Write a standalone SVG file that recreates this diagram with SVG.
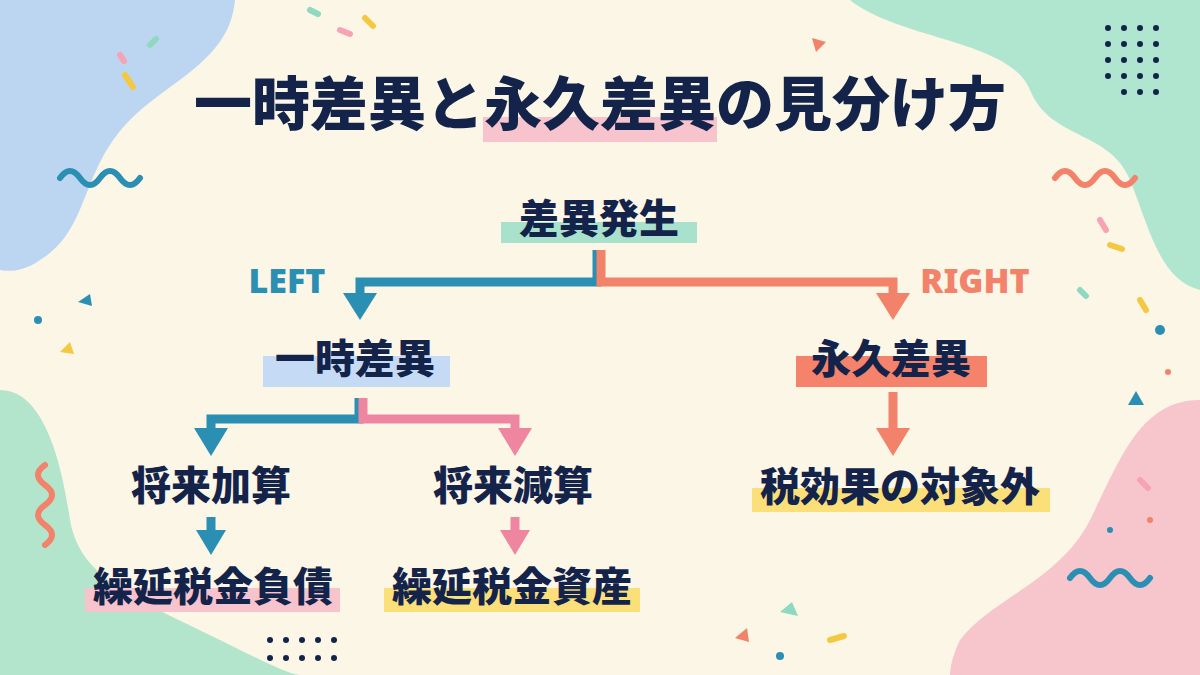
<svg xmlns="http://www.w3.org/2000/svg" width="1200" height="675" viewBox="0 0 1200 675">
<defs>
<style>
.t{font-family:"Noto Sans CJK JP","Noto Sans",sans-serif;font-weight:900;fill:#13234a;text-anchor:middle}
.lab{font-family:"Noto Sans","Liberation Sans",sans-serif;font-weight:900;font-size:34px}
.c{fill:none;stroke-width:9}
.sq{fill:none;stroke-width:6;stroke-linecap:round}
</style>
</defs>
<rect width="1200" height="675" fill="#fbf6e6"/>
<!-- blobs -->
<path d="M0,0 H235 C230,60 170,80 130,120 C80,170 90,230 40,260 C20,275 0,270 0,270Z" fill="#bcd6f2"/>
<path d="M850,0 H1200 V290 C1160,280 1150,230 1130,180 C1110,130 1050,140 1030,90 C1010,40 900,40 850,0Z" fill="#b0e6cf"/>
<path d="M0,390 C40,390 60,450 70,520 C80,580 140,600 220,640 C260,660 290,675 300,675 H0Z" fill="#b3e5cc"/>
<path d="M1200,400 C1140,400 1120,460 1090,520 C1060,580 990,600 960,640 C950,660 950,675 950,675 H1200Z" fill="#f7c6cc"/>
<!-- decorations -->
<path class="sq" stroke="#2a8fb3" d="M60,178 q10,-14 20,0 t20,0 t20,0 t20,0"/>
<path class="sq" stroke="#f2826a" d="M1055,178 q10,-14 20,0 t20,0 t20,0 t20,0"/>
<path class="sq" stroke="#2a8fb3" d="M1070,578 q10,-14 20,0 t20,0 t20,0 t20,0"/>
<path class="sq" stroke="#f2826a" d="M45,465 q-14,10 0,20 t0,20 t0,20 t0,20"/>
<g fill="#13234a">
<circle cx="1108" cy="28" r="3"/><circle cx="1124" cy="28" r="3"/><circle cx="1140" cy="28" r="3"/><circle cx="1156" cy="28" r="3"/>
<circle cx="1108" cy="44" r="3"/><circle cx="1124" cy="44" r="3"/><circle cx="1140" cy="44" r="3"/><circle cx="1156" cy="44" r="3"/>
<circle cx="1108" cy="60" r="3"/><circle cx="1124" cy="60" r="3"/><circle cx="1140" cy="60" r="3"/><circle cx="1156" cy="60" r="3"/>
<circle cx="1108" cy="76" r="3"/><circle cx="1124" cy="76" r="3"/><circle cx="1140" cy="76" r="3"/><circle cx="1156" cy="76" r="3"/>
<circle cx="1124" cy="92" r="3"/><circle cx="1140" cy="92" r="3"/><circle cx="1156" cy="92" r="3"/>
<circle cx="270" cy="640" r="3"/><circle cx="286" cy="640" r="3"/><circle cx="302" cy="640" r="3"/><circle cx="318" cy="640" r="3"/><circle cx="334" cy="640" r="3"/>
<circle cx="270" cy="658" r="3"/><circle cx="286" cy="658" r="3"/><circle cx="302" cy="658" r="3"/><circle cx="318" cy="658" r="3"/><circle cx="334" cy="658" r="3"/>
</g>
<path d="M812,38 l14,4 -10,10z" fill="#f2826a"/>
<path d="M78,302 l12,-8 2,12z" fill="#2a8fb3"/>
<path d="M1128,405 l8,-14 8,14z" fill="#2a8fb3"/>
<path d="M735,638 l12,-10 2,14z" fill="#f2826a"/>
<path d="M780,612 l12,-10 6,14z" fill="#8fd9c0"/>
<path d="M60,352 l10,-10 4,12z" fill="#f5c842"/>
<circle cx="38" cy="320" r="4" fill="#2a8fb3"/><circle cx="1160" cy="330" r="5" fill="#2a8fb3"/>
<circle cx="780" cy="656" r="4" fill="#2a8fb3"/><circle cx="1168" cy="372" r="3" fill="#f2826a"/>
<circle cx="1150" cy="520" r="3" fill="#f2826a"/><circle cx="1110" cy="530" r="3" fill="#2a8fb3"/>
<path class="sq" stroke="#f5c842" stroke-width="3" d="M125,75 l8,12 M830,640 l14,-4 M1110,245 l12,4 M1140,300 l6,10 M365,18 l8,8"/>
<path class="sq" stroke="#f7a3b5" stroke-width="3" d="M120,55 l4,6 M1100,220 l6,10 M340,30 l10,4 M1140,480 l8,8"/>
<path class="sq" stroke="#8fd9c0" stroke-width="3" d="M150,45 l6,-6 M310,10 l8,4 M1080,290 l6,6"/>
<!-- title -->
<rect x="483" y="117" width="234" height="25" fill="#f7c3cc"/>
<text class="t" x="600" y="125" font-size="58">一時差異と永久差異の見分け方</text>
<!-- connectors -->
<g id="connectors">
<path class="c" stroke="#2a8fb3" d="M597,250 V282 H360 V296"/>
<path d="M343,293 H377 L360,320z" fill="#2a8fb3"/>
<path class="c" stroke="#f2826a" d="M601,250 V282 H893 V296"/>
<path d="M876,293 H910 L893,320z" fill="#f2826a"/>
<path class="c" stroke="#2a8fb3" d="M359,398 V419 H211 V430"/>
<path d="M194,428 H228 L211,456z" fill="#2a8fb3"/>
<path class="c" stroke="#ee86a2" d="M363,398 V419 H515 V430"/>
<path d="M498,428 H532 L515,456z" fill="#ee86a2"/>
<path class="c" stroke="#f2826a" d="M893,392 V430"/>
<path d="M876,428 H910 L893,456z" fill="#f2826a"/>
<path class="c" stroke="#2a8fb3" d="M211,517 V532"/>
<path d="M196,530 H226 L211,555z" fill="#2a8fb3"/>
<path class="c" stroke="#ee86a2" d="M515,517 V532"/>
<path d="M500,530 H530 L515,555z" fill="#ee86a2"/>
</g>
<text class="lab" x="287" y="293" fill="#2a8fb3" text-anchor="middle">LEFT</text>
<text class="lab" x="975" y="293" fill="#f2826a" text-anchor="middle">RIGHT</text>
<!-- nodes -->
<g id="n_start"><rect x="501" y="222" width="196" height="21" fill="#a8e2cc"/><text class="t" x="599" y="233" font-size="40">差異発生</text></g>
<g id="n_temp"><rect x="263" y="356" width="187" height="31" fill="#c5dbf5"/><text class="t" x="355" y="373" font-size="40">一時差異</text></g>
<g id="n_perm"><rect x="796" y="356" width="191" height="31" fill="#f5826a"/><text class="t" x="891" y="373" font-size="40">永久差異</text></g>
<g id="n_add"><text class="t" x="211" y="500" font-size="40" font-weight="700">将来加算</text></g>
<g id="n_sub"><text class="t" x="513" y="500" font-size="40" font-weight="700">将来減算</text></g>
<g id="n_out"><rect x="752" y="488" width="298" height="24" fill="#fbe07a"/><text class="t" x="900" y="501" font-size="40">税効果の対象外</text></g>
<g id="n_liab"><rect x="85" y="588" width="255" height="24" fill="#f7c3cc"/><text class="t" x="213" y="601" font-size="40">繰延税金負債</text></g>
<g id="n_asset"><rect x="384" y="588" width="256" height="24" fill="#fbe07a"/><text class="t" x="512" y="601" font-size="40">繰延税金資産</text></g>
</svg>
